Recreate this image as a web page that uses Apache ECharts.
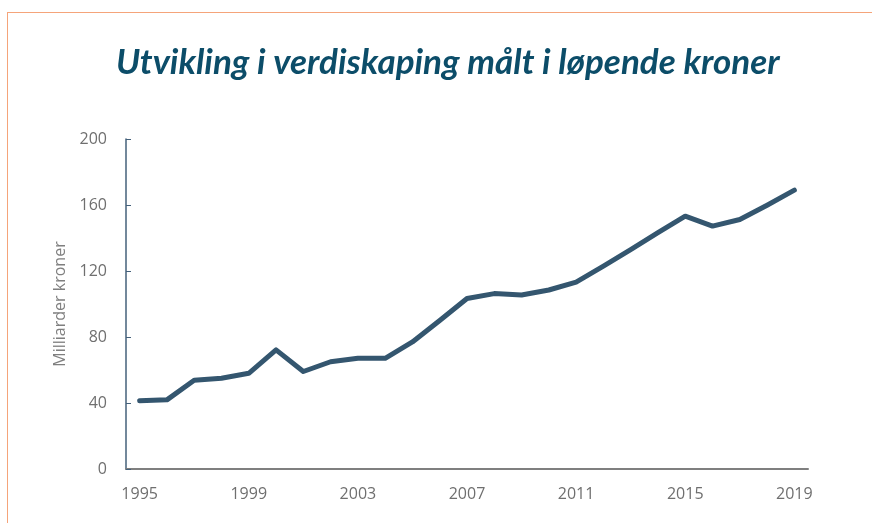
<!DOCTYPE html>
<html>
<head>
<meta charset="utf-8">
<script src="https://cdn.jsdelivr.net/npm/echarts@6/dist/echarts.min.js"></script>
<style>
  html, body { margin: 0; padding: 0; background: #fff; }
  #frame { position: absolute; left: 7px; top: 12px; width: 880px; height: 530px;
           border-left: 1.5px solid #f5a47a; border-top: 1.5px solid #f5a47a; }
  #main { position: absolute; left: 0; top: 0; width: 872px; height: 523px; }
</style>
</head>
<body>
<div id="frame"></div>
<div id="main"></div>
<script>
// år og verdiskaping (milliarder kroner)
var years = [];
for (var y = 1995; y <= 2019; y++) years.push(String(y));
var values = [41.3, 41.9, 53.8, 55, 58, 72.2, 59.1, 65, 67.1, 67.1, 77, 90, 103.3,
              106.3, 105.5, 108.5, 113.3, 123, 133, 143.2, 153.2, 147.2, 151.2, 159.9, 169];
var yTicks = [0, 40, 80, 120, 160, 200];

var myChart = echarts.init(document.getElementById('main'));

var option = {
    animation: false,
    title: {
        text: 'Utvikling i verdiskaping målt i løpende kroner',
        left: 111,
        top: 40,
        textStyle: {
            fontFamily: 'Lato',
            fontStyle: 'italic',
            fontWeight: 'bold',
            fontSize: 35,
            color: '#0c4d69'
        }
    },
    grid: { left: 126, right: 64, top: 139, bottom: 54 },
    xAxis: {
        type: 'category',
        data: years,
        boundaryGap: true,
        axisLine: { lineStyle: { color: '#7f7f7f', width: 2 } },
        axisTick: { show: false },
        axisLabel: {
            interval: 3,
            margin: 17,
            color: '#6f6f6f',
            fontFamily: 'Open Sans',
            fontSize: 16
        }
    },
    yAxis: {
        type: 'value',
        min: yTicks[0],
        max: yTicks[yTicks.length - 1],
        interval: 40,
        name: 'Milliarder kroner',
        nameLocation: 'middle',
        nameGap: 56,
        nameTextStyle: { color: '#7f7f7f', fontSize: 16, fontFamily: 'Open Sans' },
        axisLine: { show: true, lineStyle: { color: '#44607a', width: 1.5 } },
        axisTick: { show: true, inside: true, length: 5, lineStyle: { color: '#44607a' } },
        splitLine: { show: false },
        axisLabel: {
            margin: 19,
            color: '#6f6f6f',
            fontFamily: 'Open Sans',
            fontSize: 16
        }
    },
    series: [{
        type: 'line',
        data: values,
        symbol: 'none',
        lineStyle: { color: '#34566f', width: 5, cap: 'round', join: 'round' }
    }]
};

myChart.setOption(option);
</script>
</body>
</html>
